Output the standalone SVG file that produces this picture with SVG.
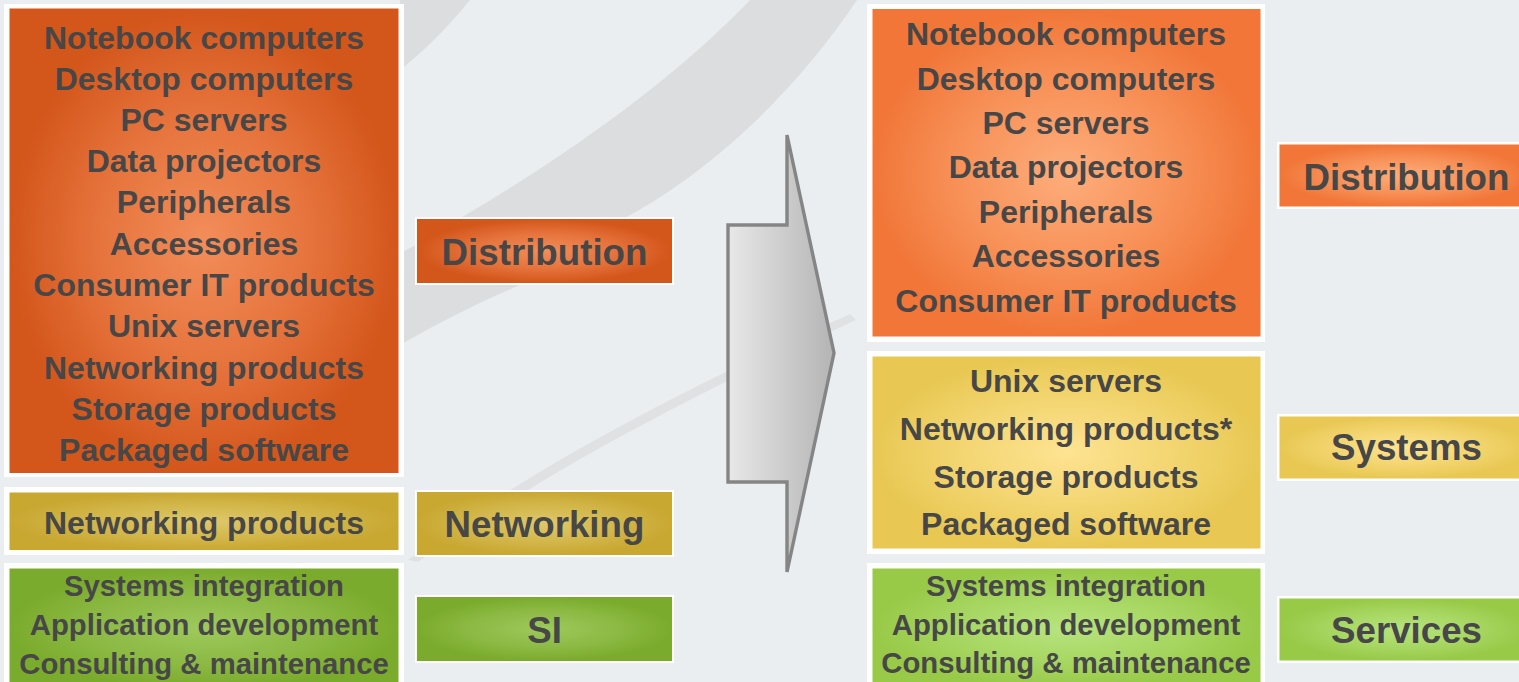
<svg xmlns="http://www.w3.org/2000/svg" width="1519" height="682" viewBox="0 0 1519 682">
<style>
  .t { font-family: "Liberation Sans", Arial, sans-serif; font-weight: bold; fill: #474747; text-anchor: middle; }
  .l { font-size: 32px; }
  .s { font-size: 29.3px; }
  .h { font-size: 36.7px; }
  .frame { fill: #ffffff; }
</style>
<defs>
  <radialGradient id="gOrL" cx="50%" cy="50%" r="50%">
    <stop offset="0" stop-color="#f28d5a"/>
    <stop offset="0.55" stop-color="#e6733c"/>
    <stop offset="1" stop-color="#d3561b"/>
  </radialGradient>
  <radialGradient id="gOrR" cx="50%" cy="50%" r="50%">
    <stop offset="0" stop-color="#fdad7c"/>
    <stop offset="0.6" stop-color="#f78f55"/>
    <stop offset="1" stop-color="#f17638"/>
  </radialGradient>
  <radialGradient id="gGoL" cx="50%" cy="50%" r="50%">
    <stop offset="0" stop-color="#dec86a"/>
    <stop offset="0.6" stop-color="#d2b649"/>
    <stop offset="1" stop-color="#c9a832"/>
  </radialGradient>
  <radialGradient id="gYeR" cx="50%" cy="50%" r="50%">
    <stop offset="0" stop-color="#fee392"/>
    <stop offset="0.6" stop-color="#f2d46e"/>
    <stop offset="1" stop-color="#e8c853"/>
  </radialGradient>
  <radialGradient id="gGrL" cx="50%" cy="50%" r="50%">
    <stop offset="0" stop-color="#9ec95c"/>
    <stop offset="0.6" stop-color="#8bb943"/>
    <stop offset="1" stop-color="#7bab2c"/>
  </radialGradient>
  <radialGradient id="gGrR" cx="50%" cy="50%" r="50%">
    <stop offset="0" stop-color="#b7e47e"/>
    <stop offset="0.6" stop-color="#a6d660"/>
    <stop offset="1" stop-color="#98c947"/>
  </radialGradient>
  <linearGradient id="gArrow" x1="0" y1="0" x2="1" y2="0">
    <stop offset="0" stop-color="#e8e8e8"/>
    <stop offset="1" stop-color="#b4b4b4"/>
  </linearGradient>
</defs>

<!-- background -->
<rect x="0" y="0" width="1519" height="682" fill="#eaeef1"/>
<g id="swoosh" fill="#dcddde">
  <path d="M750,0 L857,0 C790,100 700,180 617,222 C580,242 548,262 520,285 C480,302 440,322 400,345 L380,350 L380,262 C410,250 432,236 457,220 C560,160 672,82 750,0 Z"/>
  <path d="M400,0 L470,0 C450,25 425,50 400,70 Z"/>
  <path d="M850,314 L856,320 C700,392 560,462 418,562 L408,560 C545,458 695,384 850,314 Z" fill="#e0e1e3"/>
</g>

<!-- Left column -->
<g id="left-distribution-box">
  <rect class="frame" x="4" y="4" width="400" height="473"/>
  <rect x="9.5" y="8.5" width="389" height="464.5" fill="url(#gOrL)"/>
  <text class="t l" x="204" y="49">Notebook computers</text>
  <text class="t l" x="204" y="90">Desktop computers</text>
  <text class="t l" x="204" y="131">PC servers</text>
  <text class="t l" x="204" y="172">Data projectors</text>
  <text class="t l" x="204" y="213">Peripherals</text>
  <text class="t l" x="204" y="255">Accessories</text>
  <text class="t l" x="204" y="296">Consumer IT products</text>
  <text class="t l" x="204" y="337">Unix servers</text>
  <text class="t l" x="204" y="379">Networking products</text>
  <text class="t l" x="204" y="420">Storage products</text>
  <text class="t l" x="204" y="461">Packaged software</text>
</g>
<g id="left-networking-box">
  <rect class="frame" x="4" y="487" width="400" height="68"/>
  <rect x="9.5" y="492.5" width="389" height="57.5" fill="url(#gGoL)"/>
  <text class="t l" x="204" y="534">Networking products</text>
</g>
<g id="left-si-box">
  <rect class="frame" x="4" y="563" width="400" height="125"/>
  <rect x="9.5" y="568.5" width="389" height="120" fill="url(#gGrL)"/>
  <text class="t s" x="204" y="596">Systems integration</text>
  <text class="t s" x="204" y="635">Application development</text>
  <text class="t s" x="204" y="674">Consulting &amp; maintenance</text>
</g>

<g id="label-distribution-left">
  <rect class="frame" x="415" y="217" width="259" height="68"/>
  <rect x="417" y="219" width="255" height="64" fill="url(#gOrL)"/>
  <text class="t h" x="544.5" y="265">Distribution</text>
</g>
<g id="label-networking">
  <rect class="frame" x="415" y="490" width="259" height="67"/>
  <rect x="417" y="492" width="255" height="63" fill="url(#gGoL)"/>
  <text class="t h" x="544.5" y="537">Networking</text>
</g>
<g id="label-si">
  <rect class="frame" x="415" y="595" width="259" height="68"/>
  <rect x="417" y="597" width="255" height="64" fill="url(#gGrL)"/>
  <text class="t h" x="544.5" y="643">SI</text>
</g>

<!-- connector arrow -->
<g id="connectors">
  <polygon points="787,135 834,353 787,572 787,482 728,482 728,225 787,225" fill="url(#gArrow)" stroke="#858585" stroke-width="3.4" stroke-linejoin="miter"/>
</g>

<!-- Right column -->
<g id="right-distribution-box">
  <rect class="frame" x="867" y="4" width="398" height="338"/>
  <rect x="872.5" y="9" width="388" height="327.5" fill="url(#gOrR)"/>
  <text class="t l" x="1066" y="45">Notebook computers</text>
  <text class="t l" x="1066" y="90">Desktop computers</text>
  <text class="t l" x="1066" y="134">PC servers</text>
  <text class="t l" x="1066" y="178">Data projectors</text>
  <text class="t l" x="1066" y="223">Peripherals</text>
  <text class="t l" x="1066" y="267">Accessories</text>
  <text class="t l" x="1066" y="312">Consumer IT products</text>
</g>
<g id="right-systems-box">
  <rect class="frame" x="867" y="351" width="398" height="203"/>
  <rect x="872.5" y="356.5" width="388" height="192" fill="url(#gYeR)"/>
  <text class="t l" x="1066" y="392">Unix servers</text>
  <text class="t l" x="1066" y="440">Networking products*</text>
  <text class="t l" x="1066" y="488">Storage products</text>
  <text class="t l" x="1066" y="535">Packaged software</text>
</g>
<g id="right-services-box">
  <rect class="frame" x="867" y="563" width="398" height="125"/>
  <rect x="872.5" y="568.5" width="388" height="120" fill="url(#gGrR)"/>
  <text class="t s" x="1066" y="596">Systems integration</text>
  <text class="t s" x="1066" y="635">Application development</text>
  <text class="t s" x="1066" y="673">Consulting &amp; maintenance</text>
</g>

<g id="label-distribution-right">
  <rect class="frame" x="1277" y="142" width="250" height="67"/>
  <rect x="1279.5" y="144.5" width="250" height="62" fill="url(#gOrR)"/>
  <text class="t h" x="1406.5" y="190">Distribution</text>
</g>
<g id="label-systems">
  <rect class="frame" x="1277" y="414" width="250" height="67"/>
  <rect x="1279.5" y="416.5" width="250" height="62" fill="url(#gYeR)"/>
  <text class="t h" x="1406.5" y="460">Systems</text>
</g>
<g id="label-services">
  <rect class="frame" x="1277" y="596" width="250" height="67"/>
  <rect x="1279.5" y="598.5" width="250" height="62" fill="url(#gGrR)"/>
  <text class="t h" x="1406.5" y="643">Services</text>
</g>
</svg>
